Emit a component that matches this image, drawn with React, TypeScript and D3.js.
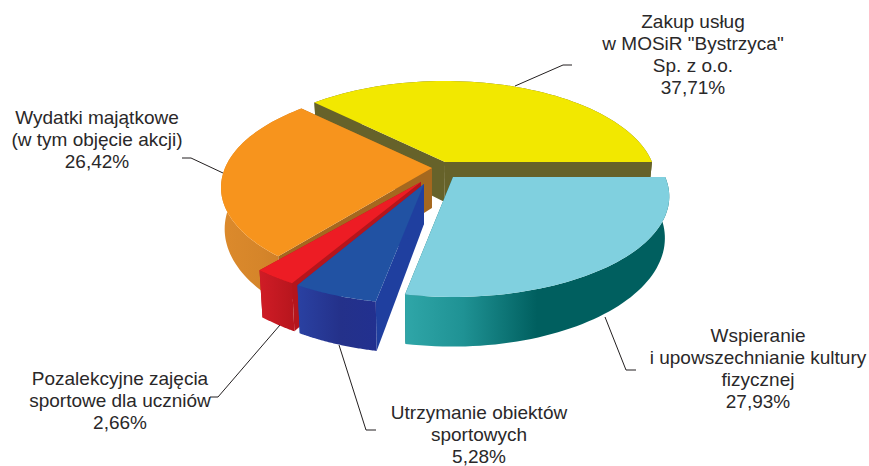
import React, { useEffect, useRef } from 'react';
import * as d3 from 'd3';

// clockwise from the east point: teal, blue, red, orange, yellow
const names = ['wspieranie', 'utrzymanie', 'pozalekcyjne', 'wydatki', 'zakup'];
const values = [27.93, 5.28, 2.66, 26.42, 37.71];
const valueLabels = ['27,93%', '5,28%', '2,66%', '26,42%', '37,71%'];
const labelLines = [
  ['Wspieranie', 'i upowszechnianie kultury', 'fizycznej'],
  ['Utrzymanie obiektów', 'sportowych'],
  ['Pozalekcyjne zajęcia', 'sportowe dla uczniów'],
  ['Wydatki majątkowe', '(w tym objęcie akcji)'],
  ['Zakup usług', 'w MOSiR "Bystrzyca"', 'Sp. z o.o.'],
];

const topColors = ['#80d0df', '#2152a3', '#ed1c24', '#f7941d', '#f2e800'];
const sideColors = ['#0c6b6b', '#1f3f9f', '#b5151c', '#a5681f', '#66622a'];
const wallStops = [
  [[0, '#2fa6a8'], [0.22, '#1f9294'], [0.5, '#005f5f'], [1, '#005f5f']],
  [[0, '#2a41a2'], [0.55, '#24318a'], [1, '#22308f']],
  [[0, '#d01c26'], [1, '#b8161e']],
  [[0, '#dc8a2c'], [0.5, '#d5852a'], [1, '#c87a26']],
  [[0, '#66622a'], [1, '#66622a']],
];

// painter's order: back slices first
const drawOrder = [4, 3, 2, 1, 0];
// how far each slice is pulled out of the pie
const explodeX = [8, -21, -24, -13, 0];
const explodeY = [15, 22, 20, 6, 0];
const widen = [1.025, 1.03, 1.05, 1, 1];

const labelX = [758, 479, 120, 97, 693];
const labelY = [342, 419, 385, 124, 28];
const leaders: [number, number][][] = [
  [[605, 317], [626, 370], [636, 370]],
  [[339, 345], [366, 430], [376, 430]],
  [[280, 325], [218, 397], [210, 397]],
  [[223, 173], [191, 158], [182, 158]],
  [[515, 86], [563, 65], [572, 65]],
];

const width = 869;
const height = 466;
const cx = 445;
const cy = 162;
const rx = 207;
const ry = 96.7;
const persp = 0.194;
const depth = 40;

const App = () => {
  const ref = useRef<SVGSVGElement>(null);

  useEffect(() => {
    const svg = d3.select(ref.current);
    svg.selectAll('*').remove();

    const pie = d3
      .pie<number>()
      .sort(null)
      .startAngle(Math.PI / 2)
      .endAngle(Math.PI / 2 + 2 * Math.PI);
    const arcs = pie(values);

    const line = d3.line();
    const defs = svg.append('defs');

    const topPoint = (i: number, a: number): [number, number, number] => {
      const u = Math.sin(a);
      const v = -Math.cos(a);
      const s = 1 / (1 - persp * v);
      return [cx + explodeX[i] + rx * widen[i] * u * s, cy + explodeY[i] + ry * v * s, s];
    };
    const drop = (p: [number, number, number]): [number, number] => [
      p[0] + (425 - p[0]) * 0.018,
      p[1] + depth * p[2],
    ];

    drawOrder.forEach((i) => {
      const d = arcs[i];
      const angles = d3.range(0, 61).map((t) => d.startAngle + ((d.endAngle - d.startAngle) * t) / 60);
      const rim = angles.map((a) => topPoint(i, a));
      const apex: [number, number, number] = [cx + explodeX[i], cy + explodeY[i], 1];
      const first = rim[0];
      const last = rim[rim.length - 1];
      const g = svg.append('g').attr('class', names[i]);

      // straight walls
      [first, last].forEach((p) => {
        g.append('path')
          .attr('d', line([[apex[0], apex[1]], [p[0], p[1]], drop(p), drop(apex)]) + 'Z')
          .attr('fill', sideColors[i]);
      });

      // curved wall
      const xs = d3.extent(rim, (p) => p[0]) as [number, number];
      const grad = defs
        .append('linearGradient')
        .attr('id', `wall-${i}`)
        .attr('gradientUnits', 'userSpaceOnUse')
        .attr('x1', xs[0])
        .attr('x2', xs[1])
        .attr('y1', 0)
        .attr('y2', 0);
      wallStops[i].forEach((s) => {
        grad.append('stop').attr('offset', s[0] as number).attr('stop-color', s[1] as string);
      });
      const wall = [
        ...rim.map((p) => [p[0], p[1]] as [number, number]),
        ...rim.map(drop).reverse(),
      ];
      g.append('path').attr('d', line(wall) + 'Z').attr('fill', `url(#wall-${i})`);

      // top face
      const face = [[apex[0], apex[1]] as [number, number], ...rim.map((p) => [p[0], p[1]] as [number, number])];
      g.append('path').attr('d', line(face) + 'Z').attr('fill', topColors[i]);
    });

    svg
      .append('g')
      .selectAll('path')
      .data(leaders)
      .enter()
      .append('path')
      .attr('d', (d) => line(d))
      .attr('fill', 'none')
      .attr('stroke', '#231f20')
      .attr('stroke-width', 1);

    const text = svg
      .append('g')
      .attr('font-family', '"Liberation Sans", Arial, sans-serif')
      .attr('font-size', 19)
      .attr('fill', '#2a2829')
      .attr('text-anchor', 'middle');

    labelLines.forEach((lines, i) => {
      [...lines, valueLabels[i]].forEach((t, j) => {
        text
          .append('text')
          .attr('x', labelX[i])
          .attr('y', labelY[i] + j * 22)
          .text(t);
      });
    });
  }, []);

  return (
    <svg
      ref={ref}
      width={width}
      height={height}
      style={{ position: 'absolute', left: 0, top: 0, background: '#fff' }}
    />
  );
};

export default App;
